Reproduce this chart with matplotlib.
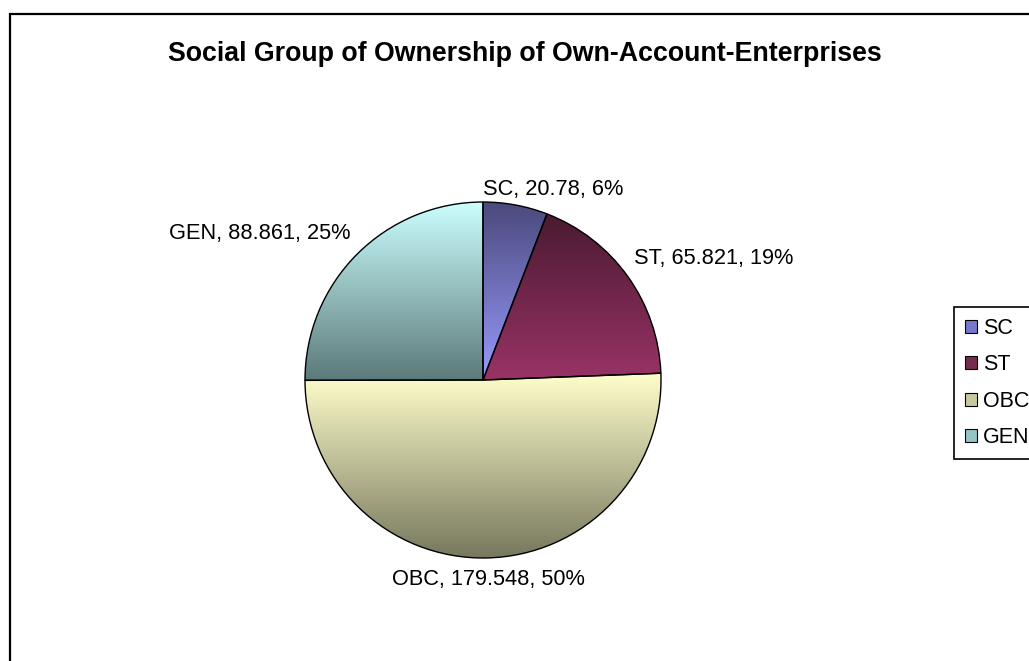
import numpy as np
import matplotlib
matplotlib.use('Agg')
import matplotlib.pyplot as plt
from matplotlib.colors import LinearSegmentedColormap
from matplotlib.patches import Rectangle, Patch

plt.rcParams['font.family'] = ['Liberation Sans', 'DejaVu Sans']

# data
groups = ['SC', 'ST', 'OBC', 'GEN']
values = [20.78, 65.821, 179.548, 88.861]
percents = ['6%', '19%', '50%', '25%']

# gradient colours (top, bottom) like the old Excel fill
top_cols = ['#4a4a7c', '#4a1a30', '#ffffcc', '#ccffff']
bot_cols = ['#9999ff', '#993366', '#77775e', '#5c7a7a']
mid_cols = ['#7777cc', '#772a4e', '#c8c8a0', '#94c4c4']

# label nudges in pixels
label_off = [(34, -2), (-8, 8), (2, -4), (-85, 8)]
label_ha = ['center', 'left', 'center', 'center']

W, H = 1029, 661
fig = plt.figure(figsize=(W / 100, H / 100), dpi=100)
ax = fig.add_axes([0, 0, 1, 1])

cx, cy, r = 483, H - 380, 178
wedges, _ = ax.pie(values, center=(cx, cy), radius=r, startangle=90,
                   counterclock=False,
                   wedgeprops=dict(edgecolor='black', linewidth=1.0, facecolor='none'))

ax.set_xlim(0, W)
ax.set_ylim(0, H)
ax.set_aspect('auto')
ax.axis('off')

# fill every wedge with a vertical gradient clipped to its shape
for w, ctop, cbot in zip(wedges, top_cols, bot_cols):
    bb = w.get_path().get_extents(w.get_patch_transform())
    cmap = LinearSegmentedColormap.from_list('g', [cbot, ctop])
    grad = np.linspace(0, 1, 256).reshape(-1, 1)
    im = ax.imshow(grad, cmap=cmap, aspect='auto', origin='lower',
                   extent=(bb.x0, bb.x1, bb.y0, bb.y1), zorder=1)
    im.set_clip_path(w)
    w.set_zorder(2)

ax.set_xlim(0, W)
ax.set_ylim(0, H)

# data labels
for i, w in enumerate(wedges):
    ang = np.deg2rad((w.theta1 + w.theta2) / 2)
    px = cx + 1.1 * r * np.cos(ang)
    py = cy + 1.1 * r * np.sin(ang)
    txt = '%s, %s, %s' % (groups[i], values[i], percents[i])
    ax.annotate(txt, (px, py), xytext=label_off[i], textcoords='offset pixels',
                ha=label_ha[i], va='center', fontsize=15.7, color='black')

ax.text(525, H - 54, 'Social Group of Ownership of Own-Account-Enterprises',
        ha='center', va='center', fontsize=19.3, fontweight='bold')

# chart border (runs off the right and bottom edges)
ax.add_patch(Rectangle((10, -20), W + 40, H - 14 + 20, fill=False,
                       edgecolor='black', linewidth=1.6, clip_on=False))

handles = [Patch(facecolor=c, edgecolor='black', linewidth=0.8) for c in mid_cols]
leg = fig.legend(handles, groups, loc='upper left',
                 bbox_to_anchor=(954 / W, 1 - 307 / H), fontsize=15.5,
                 handlelength=0.55, handleheight=0.55, handletextpad=0.3,
                 labelspacing=0.72, borderpad=0.5, borderaxespad=0,
                 fancybox=False, framealpha=1, edgecolor='black')
leg.get_frame().set_linewidth(1.2)

fig.savefig('out.png', dpi=100)
